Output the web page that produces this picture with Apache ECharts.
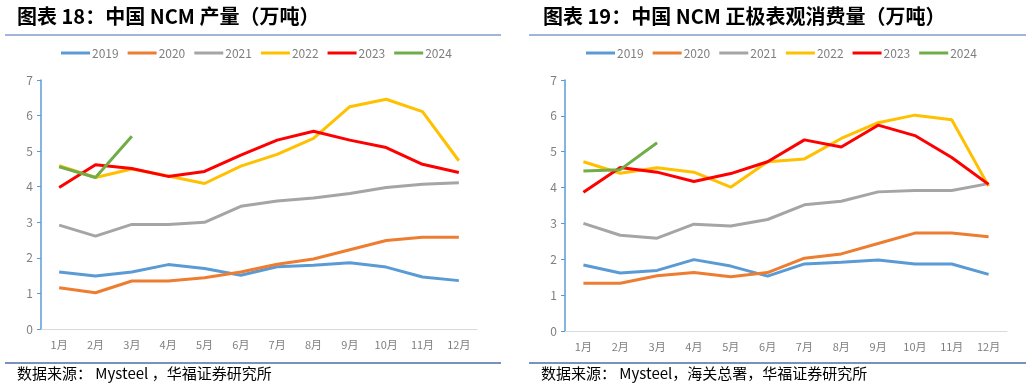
<!DOCTYPE html>
<html>
<head>
<meta charset="utf-8">
<script src="https://cdn.jsdelivr.net/npm/echarts@6/dist/echarts.min.js"></script>
<style>
  html, body { margin: 0; padding: 0; background: #fff; }
  #chart { width: 1032px; height: 388px; }
</style>
</head>
<body>
<div id="chart"></div>
<script>
// 月份
const months = ['1月', '2月', '3月', '4月', '5月', '6月', '7月', '8月', '9月', '10月', '11月', '12月']
const years = ['2019', '2020', '2021', '2022', '2023', '2024']
const colors = ['#5b9bd5', '#ed7d31', '#a5a5a5', '#ffc000', '#ff0000', '#70ad47']

// 图表18：中国NCM产量（万吨）
const prod2019 = [1.60, 1.49, 1.60, 1.81, 1.70, 1.51, 1.75, 1.79, 1.86, 1.74, 1.46, 1.36]
const prod2020 = [1.16, 1.02, 1.35, 1.35, 1.44, 1.60, 1.82, 1.97, 2.23, 2.49, 2.58, 2.58]
const prod2021 = [2.92, 2.61, 2.94, 2.94, 3.00, 3.45, 3.60, 3.68, 3.81, 3.98, 4.07, 4.11]
const prod2022 = [4.59, 4.26, 4.50, 4.30, 4.09, 4.58, 4.91, 5.36, 6.25, 6.46, 6.11, 4.73]
const prod2023 = [3.98, 4.62, 4.51, 4.29, 4.43, 4.89, 5.31, 5.56, 5.31, 5.10, 4.63, 4.40]
const prod2024 = [4.56, 4.26, 5.42]

// 图表19：中国NCM正极表观消费量（万吨）
const cons2019 = [1.84, 1.62, 1.69, 1.99, 1.81, 1.53, 1.87, 1.92, 1.98, 1.87, 1.87, 1.58]
const cons2020 = [1.33, 1.33, 1.54, 1.63, 1.51, 1.63, 2.03, 2.15, 2.44, 2.73, 2.73, 2.63]
const cons2021 = [3.00, 2.67, 2.59, 2.98, 2.93, 3.11, 3.52, 3.62, 3.88, 3.92, 3.92, 4.11]
const cons2022 = [4.72, 4.40, 4.55, 4.43, 4.01, 4.72, 4.80, 5.37, 5.81, 6.02, 5.89, 4.04]
const cons2023 = [3.87, 4.56, 4.43, 4.17, 4.39, 4.72, 5.33, 5.13, 5.74, 5.45, 4.84, 4.09]
const cons2024 = [4.46, 4.50, 5.25]

const prodData = [prod2019, prod2020, prod2021, prod2022, prod2023, prod2024]
const consData = [cons2019, cons2020, cons2021, cons2022, cons2023, cons2024]

const font = '"Noto Sans CJK SC", "Noto Sans", sans-serif'
const sepColor = '#7f9ccc'

const makeXAxis = (gridIndex) => ({
  type: 'category',
  gridIndex,
  data: months,
  boundaryGap: true,
  axisLine: { lineStyle: { color: '#d9d9d9', width: 1 } },
  axisTick: { show: false },
  axisLabel: { color: '#7f7f7f', fontSize: 11, fontFamily: font, margin: 10 }
})

const makeYAxis = (gridIndex) => ({
  type: 'value',
  gridIndex,
  min: 0,
  max: 7,
  interval: 1,
  axisLine: { show: true, lineStyle: { color: '#5b9bd5', width: 1.5 } },
  axisTick: { show: true, length: 4, lineStyle: { color: '#5b9bd5' } },
  axisLabel: { color: '#7f7f7f', fontSize: 12, fontFamily: font, margin: 8 },
  splitLine: { show: false }
})

const makeSeries = (datasets, idx) => datasets.map((d, i) => ({
  name: years[i],
  type: 'line',
  xAxisIndex: idx,
  yAxisIndex: idx,
  data: d,
  symbol: 'none',
  smooth: false,
  lineStyle: { width: 3, color: colors[i] },
  itemStyle: { color: colors[i] },
  z: i === 5 ? 5 : 2 + i * 0.1
}))

const makeLegend = (left) => ({
  data: years,
  top: 47,
  left,
  padding: 0,
  itemWidth: 29,
  itemHeight: 3,
  itemGap: 9,
  icon: 'rect',
  textStyle: { color: '#7f7f7f', fontSize: 12, fontFamily: font, padding: [0, 0, 0, -3] },
  selectedMode: false
})

const chart = echarts.init(document.getElementById('chart'))

const option = {
  animation: false,
  color: colors,
  title: [
    {
      text: '图表 18：中国 NCM 产量（万吨）',
      left: 17, top: 6, padding: 0,
      textStyle: { fontSize: 20, fontWeight: 'bold', color: '#000', fontFamily: font }
    },
    {
      text: '图表 19：中国 NCM 正极表观消费量（万吨）',
      left: 543, top: 6, padding: 0,
      textStyle: { fontSize: 20, fontWeight: 'bold', color: '#000', fontFamily: font }
    },
    {
      text: '数据来源： Mysteel ，华福证券研究所',
      left: 17, top: 366, padding: 0,
      textStyle: { fontSize: 15, fontWeight: 'normal', color: '#000', fontFamily: font }
    },
    {
      text: '数据来源： Mysteel，海关总署，华福证券研究所',
      left: 541, top: 366, padding: 0,
      textStyle: { fontSize: 15, fontWeight: 'normal', color: '#000', fontFamily: font }
    }
  ],
  legend: [makeLegend(61), makeLegend(586)],
  grid: [
    { left: 41, top: 80, width: 436, height: 249 },
    { left: 565, top: 80, width: 442, height: 251 }
  ],
  xAxis: [makeXAxis(0), makeXAxis(1)],
  yAxis: [makeYAxis(0), makeYAxis(1)],
  series: [...makeSeries(prodData, 0), ...makeSeries(consData, 1)],
  graphic: [
    { type: 'line', shape: { x1: 5, y1: 35, x2: 501, y2: 35 }, style: { stroke: sepColor, lineWidth: 1.5 } },
    { type: 'line', shape: { x1: 529, y1: 35, x2: 1026, y2: 35 }, style: { stroke: sepColor, lineWidth: 1.5 } },
    { type: 'line', shape: { x1: 5, y1: 363, x2: 501, y2: 363 }, style: { stroke: '#4a6ea8', lineWidth: 1.5 } },
    { type: 'line', shape: { x1: 529, y1: 363, x2: 1026, y2: 363 }, style: { stroke: '#4a6ea8', lineWidth: 1.5 } }
  ]
}

chart.setOption(option)
window.addEventListener('resize', () => chart.resize())
</script>
</body>
</html>
